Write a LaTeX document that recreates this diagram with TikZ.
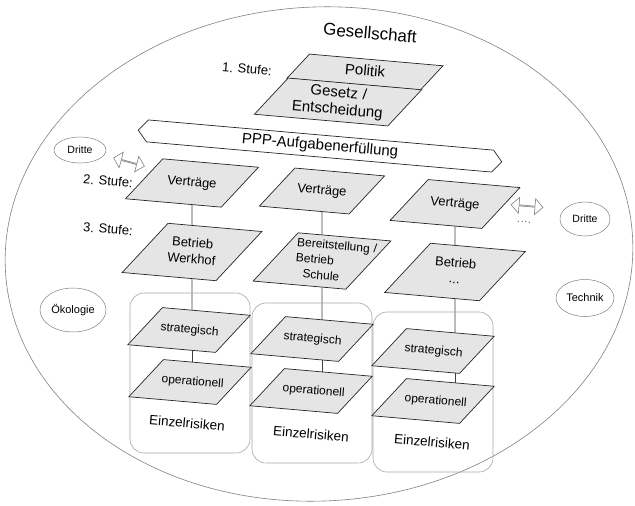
\documentclass[tikz,border=0pt]{standalone}
\usepackage{fontspec}
\setmainfont{Liberation Sans}
\usetikzlibrary{shapes.geometric,shapes.symbols,shapes.arrows,backgrounds}
\newcommand{\fsz}[2]{\fontsize{#1}{#2}\selectfont}
\tikzset{
  stage/.style={trapezium, trapezium left angle=52, trapezium right angle=128,
    draw=black!85, line width=0.7pt, fill=gray!20,
    rotate=-5, align=center, inner sep=0pt, font={\fsz{13}{16}}},
  % body width, height above and below the first baseline
  stagebox/.style n args={3}{text width=#1pt, text height=#2pt, text depth=#3pt},
  tilted/.style={rotate=-5, align=center, inner sep=0pt, font={\fsz{13}{15}}},
  banner/.style={signal, signal to=west and east, signal pointer angle=100,
    draw=black!85, line width=0.7pt, fill=white, rotate=-5, inner sep=1pt,
    font={\fsz{15}{15}}},
  env/.style={ellipse, draw=gray, line width=0.5pt, inner sep=0pt, font={\fsz{10.5}{11}}},
  riskbox/.style={draw=gray!70, rounded corners=14pt, line width=0.6pt,
    minimum width=120pt, minimum height=160pt},
  link/.style={double arrow, draw=gray, line width=0.6pt, double arrow head extend=4pt,
    minimum height=32pt, minimum width=16pt, inner sep=0pt}
}

\begin{document}
\begin{tikzpicture}[x=1pt, y=-1pt]
    \useasboundingbox (0,0) rectangle (635,506);
    % society
    \draw [gray, line width=0.6pt, rotate around={3:(319,254)}] (319,254) ellipse [x radius=314, y radius=247];
    \node[tilted, font={\fsz{17}{17}}] (soc) at (370,33) {Gesellschaft};
    % 1. Stufe
    \node[tilted] (st1) at (247,69) {1. Stufe:};
    \node[stage, stagebox={113.7}{16.8}{9.2}, font={\fsz{15}{17}}] (pol) at (365,72) {Politik};
    \node[stage, stagebox={103.5}{14.8}{24.2}, font={\fsz{15}{17}}] (ges) at (338,102) {Gesetz /\\Entscheidung};
    \node[banner, minimum width=365pt, minimum height=22pt] (ppp) at (320,146) {PPP-Aufgabenerfüllung};
    % 2. Stufe
    \node[env, minimum width=52pt, minimum height=26pt] (dl) at (80,150) {Dritte};
    \node[link, rotate=-15] (al) at (129,162) {};
    \node[tilted] (st2) at (108,181) {2. Stufe:};
    \node[stage, stagebox={62.5}{24.8}{18.2}] (v1) at (192,183) {Verträge};
    \node[stage, stagebox={58}{23.8}{17.2}] (v2) at (322,191) {Verträge};
    \node[stage, stagebox={57.7}{25.3}{18.7}] (v3) at (455,204) {Verträge};
    \node[link, rotate=-5] (ar) at (527,206) {};
    \node[tilted, text=gray] (dots) at (524,222) {....};
    \node[env, minimum width=50pt, minimum height=34pt] (dr) at (585,219) {Dritte};
    % 3. Stufe
    \node[tilted] (st3) at (108,229) {3. Stufe:};
    \node[stage, stagebox={52.7}{21.8}{31.2}] (b1) at (192,252) {Betrieb\\Werkhof};
    \node[stage, stagebox={52.4}{13.5}{38.5}, align=left, font={\fsz{12}{15.5}}] (b2) at (322,261) {\mbox{Bereitstellung /}\\Betrieb\\\hspace*{8pt}Schule};
    \node[stage, stagebox={53.7}{21.8}{31.2}] (b3) at (455,272) {Betrieb\\...};
    \node[env, minimum width=58pt, minimum height=37pt, font={\fsz{11}{11}}] (tech) at (585,298) {Technik};
    \node[env, minimum width=66pt, minimum height=44pt, font={\fsz{11}{11}}] (oeko) at (73,310) {Ökologie};
    % risks
    \node[riskbox] (r1) at (190,373) {};
    \node[riskbox] (r2) at (312,383) {};
    \node[riskbox] (r3) at (433,392) {};
    \node[stage, stagebox={56.8}{23.1}{16.9}, font={\fsz{12}{12}}] (s1) at (189,330) {strategisch};
    \node[stage, stagebox={56.8}{23.1}{16.9}, font={\fsz{12}{12}}] (o1) at (190,382) {operationell};
    \node[tilted, font={\fsz{13.5}{14}}] (e1) at (187,423) {Einzelrisiken};
    \node[stage, stagebox={56.8}{23.1}{16.9}, font={\fsz{12}{12}}] (s2) at (312,339) {strategisch};
    \node[stage, stagebox={56.8}{23.1}{16.9}, font={\fsz{12}{12}}] (o2) at (311,391) {operationell};
    \node[tilted, font={\fsz{13.5}{14}}] (e2) at (311,434) {Einzelrisiken};
    \node[stage, stagebox={56.8}{23.1}{16.9}, font={\fsz{12}{12}}] (s3) at (433,351) {strategisch};
    \node[stage, stagebox={56.8}{23.1}{16.9}, font={\fsz{12}{12}}] (o3) at (433,401) {operationell};
    \node[tilted, font={\fsz{13.5}{14}}] (e3) at (432,442) {Einzelrisiken};
    % links
    \begin{pgfonlayer}{background}
        \draw [black!75, line width=0.7pt] (v1) -- (b1);
        \draw [black!75, line width=0.7pt] (b1) -- (b1 |- s1);
        \draw [black!75, line width=0.7pt] (s1 -| b1) -- (o1 -| b1);
        \draw [black!75, line width=0.7pt] (v2) -- (b2);
        \draw [black!75, line width=0.7pt] (b2) -- (b2 |- s2);
        \draw [black!75, line width=0.7pt] (s2 -| b2) -- (o2 -| b2);
        \draw [black!75, line width=0.7pt] (v3) -- (b3);
        \draw [black!75, line width=0.7pt] (b3) -- (b3 |- s3);
        \draw [black!75, line width=0.7pt] (s3 -| b3) -- (o3 -| b3);
    \end{pgfonlayer}
\end{tikzpicture}
\end{document}
